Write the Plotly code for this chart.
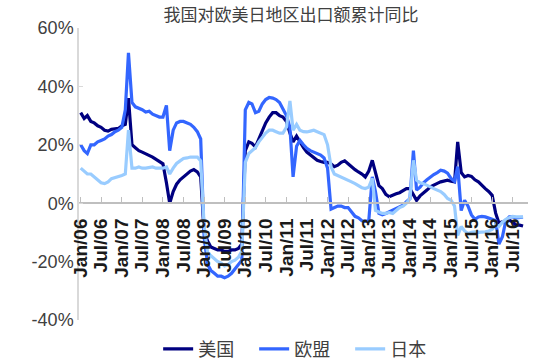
import pandas as pd
import plotly.graph_objects as go

months = pd.date_range("2006-01-01", periods=130, freq="MS")

series_names = ["美国", "欧盟", "日本"]

us = [31, 29, 30, 28, 27.5, 26.5, 26, 25, 24.7, 25.3, 25.5, 25.6,
      26.5, 27, 36, 20, 19, 18, 17.5, 17, 16.5, 15.8, 15, 14.2,
      13.5, 7, 0, 4, 6.5, 8, 9, 10, 11, 11.5, 10.7, 9,
      -10, -13, -15, -15.5, -16, -16, -16.5, -16.5, -16, -16, -15.5, -14,
      18, 21, 20.5, 19.3, 22, 25, 27.5, 29.5, 31, 31, 30, 29.5,
      28, 24, 21, 23, 21, 19, 17.5, 16.5, 15.5, 14.7, 14.3, 14,
      14, 13.5, 12.5, 13, 14, 14.5, 13.5, 12.4, 11.5, 10.7, 10, 9,
      11, 14.7, 10, 6, 5, 3, 2.2, 2.8, 3.2, 3.6, 4.2, 5,
      5, 2.7, 1, 2.5, 3.4, 4.5, 5.6, 6.3, 6.8, 7.3, 7.6, 7.9,
      7.5, 7.3, 21, 10.5, 9, 9.5, 9.2, 8, 7.3, 6, 5, 4,
      2.7, -3.4, -6.8, -6.4, -6, -5.8, -6.5, -7.5, -7.5, -7.8]

eu = [20, 18, 17, 20, 20, 21, 21.5, 22, 23, 23.5, 24.5, 25,
      26, 32, 51.5, 34.5, 33, 32.5, 32, 31.2, 31.5, 30.5, 30, 29.5,
      29.5, 33.5, 18, 25, 27.5, 28, 28, 27.5, 27, 26, 24.5, 22,
      -12, -21, -23, -24, -25, -25, -25.5, -25, -24, -22.5, -21, -19.5,
      32, 34.5, 34, 31, 31.5, 34, 35.5, 36.2, 36, 35.5, 34.5, 32,
      30, 26, 9, 19.5, 21.5, 20, 18.8, 18, 17.5, 17, 16.5, 15.5,
      12, -2, -1.5, -1, -1, -1.5, -1.5, -3, -4.5, -5, -6, -6.2,
      -6, 9, 4, -3.5, -4, -3.5, -3, -2.5, -2, -1.5, -0.7, 0.5,
      1.5, 18, 4.5, 5.5, 7, 8, 9, 9.8, 10.5, 11.3, 11, 10.3,
      8.5, 7.5, 12.5, -2.5, 1, -1, -4, -5.5, -4.7, -4.5, -4.7, -5,
      -5.5, -6, -14, -11.5, -6, -4.7, -4.7, -5, -5, -4.8]

jp = [12, 11, 10, 10, 9, 8, 7, 6.7, 7.3, 8.4, 8.7, 9,
      9.5, 10, 25, 12, 12, 12.4, 12, 12, 12.3, 12.4, 12, 12,
      12, 12.4, 10, 12, 13.6, 14.5, 15.3, 15.5, 15.8, 15.8, 15.8, 14.5,
      -8, -17, -18, -19, -20, -20.5, -21.5, -21, -20, -19.5, -18.5, -16.5,
      14, 17, 18, 19, 21, 22.7, 24, 25, 25, 24.5, 24, 24,
      26, 35, 25, 27, 25, 24.5, 24.4, 24.7, 25, 24.5, 24, 23.5,
      20, 12.5, 10, 9.5, 9, 8.5, 8, 7.3, 6.7, 6, 5.3, 5,
      5.5, 8.5, -2.5, -3, -3.5, -3.5, -3.2, -3.5, -2.5, -1.5, -1, 0,
      1.6, 14.7, 7.9, 7, 6.7, 6, 5.6, 5, 4.5, 4, 3, 1.6,
      1, -1, -11, -8, -9.5, -10.4, -10, -9.8, -10, -10, -9.8, -9.5,
      -9, -7.5, -8, -6.5, -5.5, -5, -4.5, -4.7, -4.7, -4.7]

y_ticks = [-40, -20, 0, 20, 40, 60]
y_tick_labels = ["-40%", "-20%", "0%", "20%", "40%", "60%"]

colors = ["#000080", "#3366ff", "#99ccff"]
FONT = "Liberation Sans, Arial, Noto Sans CJK SC"

fig = go.Figure()
for name, vals, col in zip(series_names, [us, eu, jp], colors):
    fig.add_trace(go.Scatter(x=months, y=vals, name=name, mode="lines",
                             line=dict(color=col, width=3.2)))

fig.update_layout(
    width=534, height=362,
    margin=dict(l=79, r=6, t=28, b=42, autoexpand=False),
    paper_bgcolor="white", plot_bgcolor="white",
    font=dict(family=FONT, color="#404040"),
    title=dict(text="我国对欧美日地区出口额累计同比", x=0.545, xanchor="center",
               y=0.958, yanchor="middle",
               font=dict(family="Noto Sans CJK SC", size=17, color="#404040")),
    showlegend=True,
    legend=dict(orientation="h", x=0.497, xanchor="center", y=-0.1, yanchor="middle",
                font=dict(family="Noto Sans CJK SC", size=18, color="#404040"),
                entrywidth=51, entrywidthmode="pixels", tracegroupgap=0),
)

fig.update_xaxes(
    type="date",
    range=["2005-12-17", "2016-11-14"],
    anchor="free", position=0.4,
    showline=True, linecolor="#bfbfbf", linewidth=1.5,
    ticks="inside", ticklen=5, tickcolor="#bfbfbf", tickwidth=1.2,
    dtick="M6", tick0="2006-01-01", tickformat="%b/%y",
    tickangle=-90, ticklabelstandoff=7,
    tickfont=dict(family=FONT, size=19, color="#1a1a1a", weight="bold"),
    showgrid=False, zeroline=False,
)

fig.update_yaxes(
    range=[-40, 60],
    tickvals=y_ticks, ticktext=y_tick_labels,
    showline=True, linecolor="#d9d9d9", linewidth=1.5,
    ticks="inside", ticklen=4, tickcolor="#d9d9d9",
    tickfont=dict(family=FONT, size=18, color="#404040"),
    showgrid=False, zeroline=False,
)

fig.write_html("out.html")
